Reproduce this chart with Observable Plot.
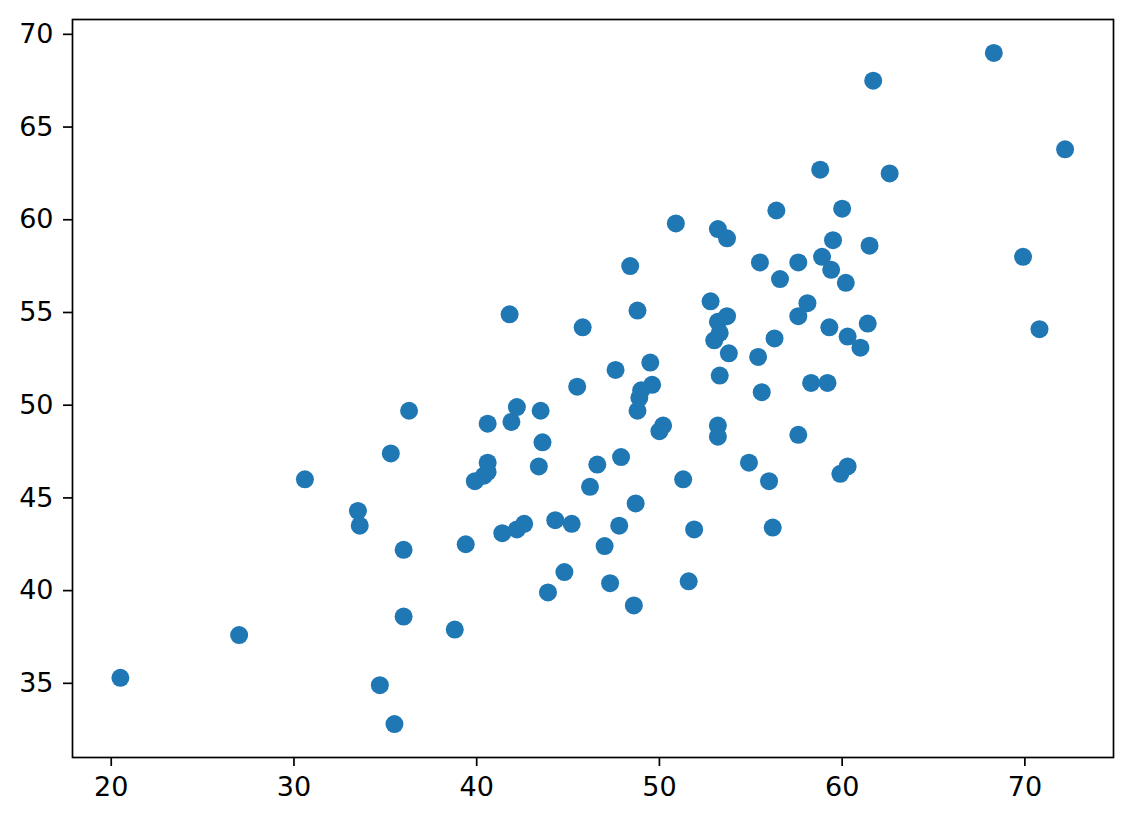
<!DOCTYPE html>
<html>
<head>
<meta charset="utf-8">
<script src="https://cdn.jsdelivr.net/npm/d3@7"></script>
<script src="https://cdn.jsdelivr.net/npm/@observablehq/plot@0.6"></script>
<style>
  html, body { margin: 0; padding: 0; background: #fff; }
</style>
</head>
<body>
<div id="chart"></div>
<script>
const xValues = [
  20.5, 27.0, 30.6, 33.5, 33.6, 35.3, 34.7, 35.5, 36.0, 36.0,
  36.3, 38.8, 39.4, 39.9, 40.4, 40.6, 40.6, 40.6, 41.4, 41.8,
  41.9, 42.2, 42.2, 42.6, 43.4, 43.5, 43.6, 43.9, 44.3, 44.8,
  45.2, 45.5, 45.8, 46.2, 46.6, 47.0, 47.3, 47.6, 47.8, 47.9,
  48.4, 48.6, 48.7, 48.8, 48.8, 48.9, 49.0, 49.5, 49.6, 50.0,
  50.2, 50.9, 51.3, 51.6, 51.9, 52.8, 53.0, 53.2, 53.2, 53.2,
  53.2, 53.3, 53.3, 53.7, 53.7, 53.8, 54.9, 55.4, 55.5, 55.6,
  56.0, 56.2, 56.3, 56.4, 56.6, 57.6, 57.6, 57.6, 58.1, 58.3,
  58.8, 58.9, 59.2, 59.3, 59.4, 59.5, 59.9, 60.0, 60.2, 60.3,
  60.3, 61.0, 61.4, 61.5, 61.7, 62.6, 68.3, 69.9, 70.8, 72.2
];
const yValues = [
  35.3, 37.6, 46.0, 44.3, 43.5, 47.4, 34.9, 32.8, 42.2, 38.6,
  49.7, 37.9, 42.5, 45.9, 46.2, 46.4, 46.9, 49.0, 43.1, 54.9,
  49.1, 49.9, 43.3, 43.6, 46.7, 49.7, 48.0, 39.9, 43.8, 41.0,
  43.6, 51.0, 54.2, 45.6, 46.8, 42.4, 40.4, 51.9, 43.5, 47.2,
  57.5, 39.2, 44.7, 55.1, 49.7, 50.4, 50.8, 52.3, 51.1, 48.6,
  48.9, 59.8, 46.0, 40.5, 43.3, 55.6, 53.5, 54.5, 48.9, 48.3,
  59.5, 51.6, 53.9, 59.0, 54.8, 52.8, 46.9, 52.6, 57.7, 50.7,
  45.9, 43.4, 53.6, 60.5, 56.8, 57.7, 54.8, 48.4, 55.5, 51.2,
  62.7, 58.0, 51.2, 54.2, 57.3, 58.9, 46.3, 60.6, 56.6, 46.7,
  53.7, 53.1, 54.4, 58.6, 67.5, 62.5, 69.0, 58.0, 54.1, 63.8
];
const xTicks = [20, 30, 40, 50, 60, 70];
const yTicks = [35, 40, 45, 50, 55, 60, 65, 70];

const points = xValues.map((x, i) => ({x, y: yValues[i]}));

const chart = Plot.plot({
  width: 1132,
  height: 822,
  marginLeft: 72,
  marginRight: 19,
  marginTop: 19,
  marginBottom: 65,
  style: {
    fontFamily: "'DejaVu Sans', sans-serif",
    fontSize: "27px",
    background: "#fff",
    color: "#000"
  },
  x: {domain: [17.88, 74.85], ticks: xTicks, tickSize: 9, tickPadding: 10, label: null},
  y: {domain: [31.0, 70.8], ticks: yTicks, tickSize: 9, tickPadding: 10, label: null},
  marks: [
    Plot.dot(points, {x: "x", y: "y", r: 9, fill: "#1f77b4", stroke: "none"}),
    Plot.frame({stroke: "#000", strokeWidth: 1.7}),
    Plot.axisX({ticks: xTicks, tickSize: 9, tickPadding: 10, strokeWidth: 1.7, stroke: "#000", fill: "#000", label: null}),
    Plot.axisY({ticks: yTicks, tickSize: 9, tickPadding: 10, strokeWidth: 1.7, stroke: "#000", fill: "#000", label: null})
  ]
});
document.getElementById("chart").appendChild(chart);
</script>
</body>
</html>
